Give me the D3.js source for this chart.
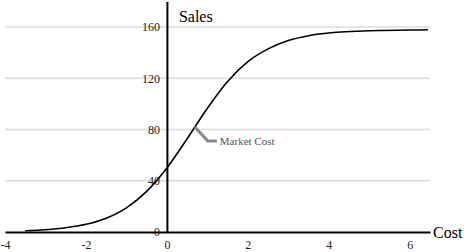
<!DOCTYPE html>
<html>
<head>
<meta charset="utf-8">
<script src="https://cdn.jsdelivr.net/npm/d3@7"></script>
<style>
  body { margin: 0; background: #fff; }
  text { font-family: "Liberation Serif", "DejaVu Serif", serif; }
</style>
</head>
<body>
<svg id="chart" width="468" height="252"></svg>
<script>
// values
const costs = [-3.5, -3, -2.5, -2, -1.5, -1, -0.5, 0, 0.5, 1, 1.5, 2, 2.5, 3, 3.5, 4, 5, 6, 6.45];
const sales = [1.0, 1.8, 3.3, 6, 10.8, 18.9, 31.7, 50, 72.8, 96.7, 117.6, 133, 143, 149.5, 153.3, 155.4, 157.2, 157.7, 157.9];
const xTicks = [-4, -2, 0, 2, 4, 6];
const yTicks = [0, 40, 80, 120, 160];
const annotation = { label: "Market Cost", cost: 0.69, sales: 82 };

const svg = d3.select("#chart");
const x = d3.scaleLinear().domain([-4, 6.5]).range([5, 430]);
const y = d3.scaleLinear().domain([0, 180]).range([232, 1.5]);

// grid lines
svg.append("g")
  .selectAll("line")
  .data(yTicks.filter(d => d > 0))
  .join("line")
  .attr("x1", x(-4)).attr("x2", x(6.5))
  .attr("y1", d => y(d)).attr("y2", d => y(d))
  .attr("stroke", "#dcdcdc")
  .attr("stroke-width", 1.5);

// x axis
const gx = svg.append("g")
  .attr("transform", `translate(0,${y(0)})`)
  .call(d3.axisBottom(x).tickValues(xTicks).tickSize(0).tickPadding(8).tickFormat(d => String(d)));
gx.select(".domain").attr("stroke", "#000").attr("stroke-width", 2);
gx.selectAll("text").attr("font-size", 12).attr("font-family", "Liberation Serif").attr("fill", "#222");

// y axis
const gy = svg.append("g")
  .attr("transform", `translate(${x(0)},0)`)
  .call(d3.axisLeft(y).tickValues(yTicks).tickSize(0).tickPadding(7));
gy.select(".domain").attr("stroke", "#000").attr("stroke-width", 2);
gy.selectAll("text").attr("font-size", 12).attr("font-family", "Liberation Serif").attr("fill", "#222");

// axis titles
svg.append("text").attr("x", x(0) + 12).attr("y", 22)
  .attr("font-size", 16).text("Sales");
svg.append("text").attr("x", x(6.5) + 3).attr("y", y(0) + 6)
  .attr("font-size", 16).text("Cost");

// curve
const line = d3.line()
  .x((d, i) => x(costs[i]))
  .y(d => y(d))
  .curve(d3.curveMonotoneX);
svg.append("path")
  .datum(sales)
  .attr("d", line)
  .attr("fill", "none")
  .attr("stroke", "#000")
  .attr("stroke-width", 1.6);

// annotation
const ax = x(annotation.cost), ay = y(annotation.sales);
svg.append("path")
  .attr("d", `M${ax},${ay}L${ax + 13},${ay + 14}L${ax + 22},${ay + 14}`)
  .attr("fill", "none")
  .attr("stroke", "#888")
  .attr("stroke-width", 3);
svg.append("text")
  .attr("x", ax + 25).attr("y", ay + 18)
  .attr("font-size", 11)
  .attr("fill", "#555")
  .text(annotation.label);
</script>
</body>
</html>
